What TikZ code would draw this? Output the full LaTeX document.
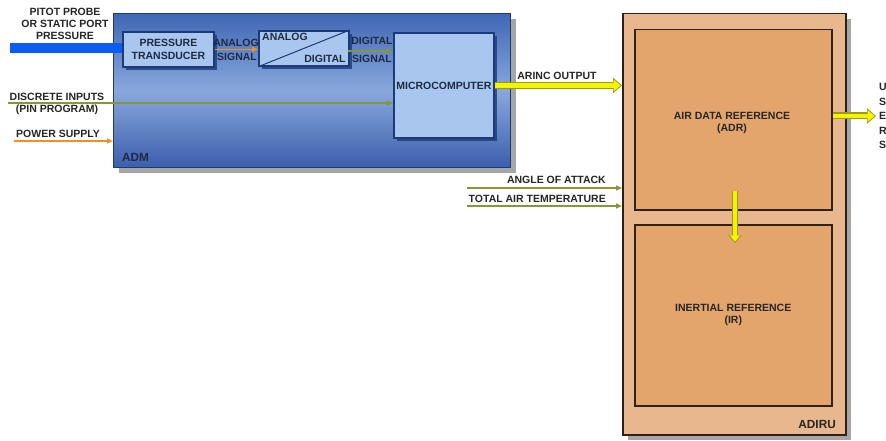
\documentclass[tikz,border=0pt]{standalone}
\usepackage{fontspec}
\setmainfont{Liberation Sans}
\usetikzlibrary{arrows.meta,shadows}
\definecolor{admtop}{HTML}{3F67B4}
\definecolor{admmid}{HTML}{88A8DC}
\definecolor{admbot}{HTML}{3C5EAC}
\definecolor{navy}{HTML}{1C3A78}
\definecolor{boxfill}{HTML}{A9C7EE}
\definecolor{peach}{HTML}{E8B78E}
\definecolor{tanfill}{HTML}{E3A56C}
\definecolor{brownline}{HTML}{2E2118}
\definecolor{ylw}{HTML}{F4F400}
\definecolor{yolive}{HTML}{9C9A1E}
\definecolor{olv}{HTML}{86973A}
\definecolor{org}{HTML}{F0901E}
\definecolor{pitot}{HTML}{0A5CF5}
\definecolor{txt}{HTML}{262626}
\definecolor{boxtxt}{HTML}{1E2A44}
\begin{document}
\begin{tikzpicture}[x=1pt,y=-1pt,
  lbl/.style={font=\bfseries\fontsize{10.5}{12}\selectfont, text=txt, inner sep=0pt, align=center},
  biglbl/.style={font=\bfseries\fontsize{11.8}{13}\selectfont, inner sep=0pt},
  admbox/.style={draw=navy, line width=1.4pt, top color=admtop, bottom color=admbot, middle color=admmid,
    inner sep=0pt, drop shadow={shadow xshift=5pt, shadow yshift=-5pt, fill=black, opacity=0.35}},
  bluebox/.style={draw=navy, line width=1.8pt, fill=boxfill, inner sep=0pt, text=boxtxt,
    font=\bfseries\fontsize{10.5}{12.5}\selectfont, align=center,
    drop shadow={shadow xshift=3pt, shadow yshift=-3pt, fill=navy, opacity=0.8}},
  adirubox/.style={draw=brownline, line width=1.5pt, fill=peach, inner sep=0pt,
    drop shadow={shadow xshift=5pt, shadow yshift=-5pt, fill=black, opacity=0.35}},
  tanbox/.style={draw=brownline, line width=1.5pt, fill=tanfill, inner sep=0pt, text=txt,
    font=\bfseries\fontsize{10.5}{12}\selectfont, align=center},
  thinarrow/.style={line width=1.6pt, -{Triangle[length=6pt,width=5pt]}},
  yout/.style={yolive, line width=7pt, -{Triangle[length=9pt,width=15pt]}},
  yin/.style={ylw, line width=4.6pt, -{Triangle[length=7pt,width=11.4pt]}, shorten >=1.4pt}
]
\useasboundingbox (0,0) rectangle (886,441);
\fill[white] (0,0) rectangle (886,441);

% ADM
\node[admbox, anchor=north west, minimum width=397pt, minimum height=154pt] (adm) at (113,13) {};
\node[biglbl, anchor=west, text=boxtxt] (admlbl) at (122,157) {ADM};

% Pitot
\coordinate (pitotstart) at (10,48);
\node[lbl] (pitotlbl) at (65,24) {PITOT PROBE\\OR STATIC PORT\\PRESSURE};
\draw[pitot, line width=10pt] (pitotstart) -- (122,48);

% inner boxes
\node[bluebox, anchor=north west, minimum width=91pt, minimum height=35pt] (pt) at (122,31) {PRESSURE\\TRANSDUCER};
\node[bluebox, anchor=north west, minimum width=90pt, minimum height=35pt] (ad) at (258,30) {};
\draw[navy, line width=1pt] (ad.south west) -- (ad.north east);
\node[lbl, text=boxtxt, anchor=north west] (adtxt1) at ([xshift=4pt,yshift=-3pt]ad.north west) {ANALOG};
\node[lbl, text=boxtxt, anchor=south east] (adtxt2) at ([xshift=-4pt,yshift=4pt]ad.south east) {DIGITAL};
\node[bluebox, anchor=north west, minimum width=100pt, minimum height=105pt] (mc) at (393,32) {MICROCOMPUTER};

% analog signal
\draw[org, thinarrow] (pt.east) -- (pt.east -| ad.west);
\node[lbl, text=boxtxt] (anlbl) at (236,43) {ANALOG};
\node[lbl, text=boxtxt] (anlbl2) at (237,57) {SIGNAL};

% digital signal
\coordinate (dsig) at (348,51);
\draw[olv, thinarrow] (dsig) -- (dsig -| mc.west);
\node[lbl, text=boxtxt] (dglbl) at (372,41) {DIGITAL};
\node[lbl, text=boxtxt] (dglbl2) at (372,59) {SIGNAL};

% discrete inputs
\coordinate (disc) at (8,103);
\draw[olv, thinarrow] (disc) -- (disc -| mc.west);
\node[lbl] (disclbl) at (57,97) {DISCRETE INPUTS};
\node[lbl] (disclbl2) at (57,110) {(PIN PROGRAM)};

% power supply
\coordinate (pwr) at (14,141);
\draw[org, thinarrow] (pwr) -- (pwr -| adm.west);
\node[lbl] (pwrlbl) at (58,134) {POWER SUPPLY};

% ADIRU
\node[adirubox, anchor=north west, minimum width=223pt, minimum height=421pt] (adiru) at (622,13) {};
\node[tanbox, anchor=north west, minimum width=197pt, minimum height=180pt] (adr) at (634,29) {};
\node[lbl] (adrlbl) at (732,123) {AIR DATA REFERENCE\\(ADR)};
\node[tanbox, anchor=north west, minimum width=197pt, minimum height=181pt] (ir) at (634,224) {INERTIAL REFERENCE\\(IR)};
\node[biglbl, text=txt, anchor=east] (adirulbl) at (836,424) {ADIRU};

% ARINC output
\draw[yout] (mc.east) -- (mc.east -| adiru.west);
\draw[yin] (mc.east) -- (mc.east -| adiru.west);
\node[lbl] (arinclbl) at (557,76) {ARINC OUTPUT};

% ADR -> IR
\coordinate (v1) at (735,191);
\coordinate (v2) at (735,243);
\draw[yout, line width=6pt, -{Triangle[length=8pt,width=13pt]}] (v1) -- (v2);
\draw[yin, line width=4pt, -{Triangle[length=6.2pt,width=9.8pt]}] (v1) -- (v2);

% output to users
\coordinate (out) at (876,116);
\draw[yout] (adr.east |- out) -- (out);
\draw[yin] (adr.east |- out) -- (out);
\node[lbl, anchor=west, align=left, font=\bfseries\fontsize{10.5}{14.5}\selectfont] (users) at (879,116) {U\\S\\E\\R\\S};

% AOA, TAT
\coordinate (aoa) at (467,188);
\coordinate (tat) at (467,206);
\draw[olv, thinarrow] (aoa) -- (aoa -| adiru.west);
\draw[olv, thinarrow] (tat) -- (tat -| adiru.west);
\node[lbl, anchor=east] (aoalbl) at (606,180) {ANGLE OF ATTACK};
\node[lbl, anchor=east] (tatlbl) at (606,199) {TOTAL AIR TEMPERATURE};
\end{tikzpicture}
\end{document}
